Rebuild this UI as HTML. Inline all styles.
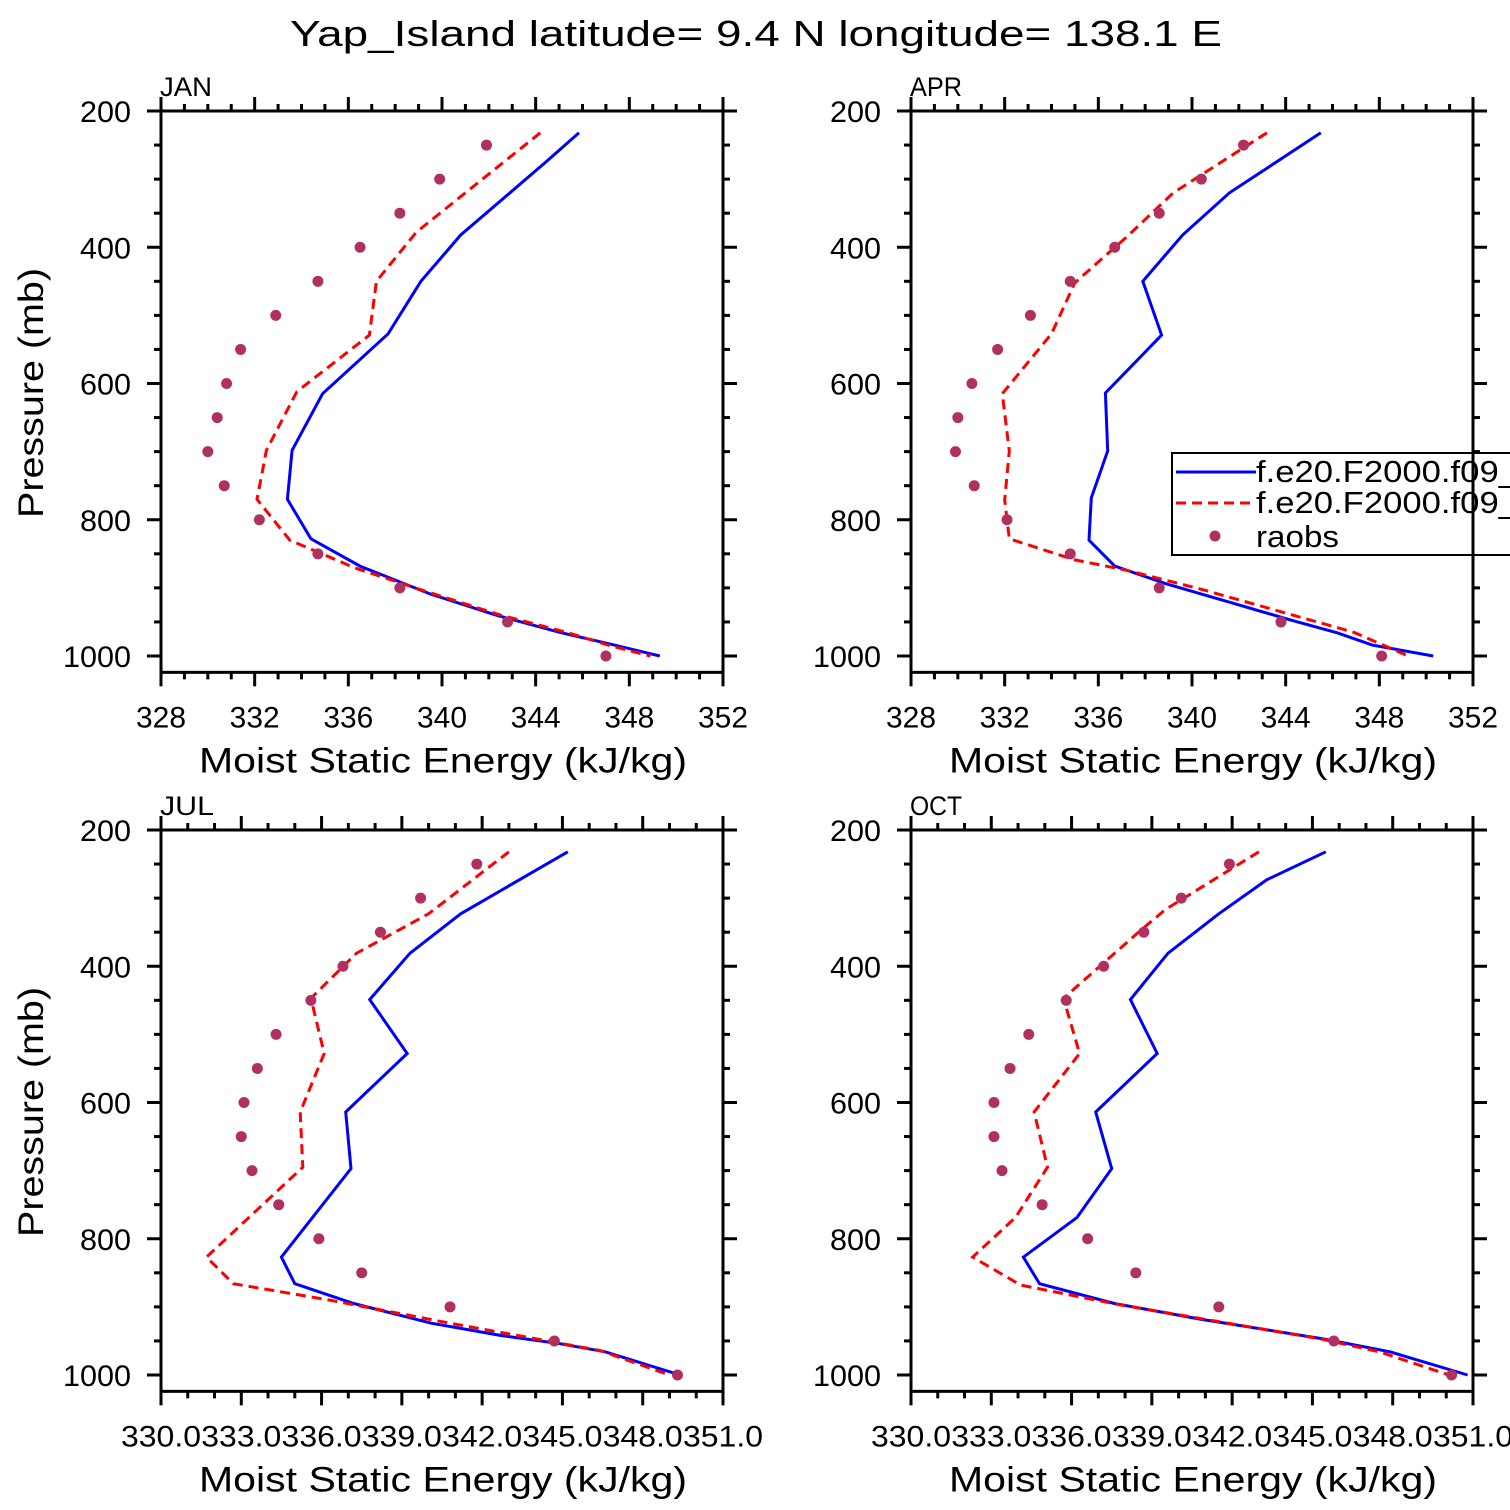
<!DOCTYPE html>
<html><head><meta charset="utf-8"><style>
body{margin:0;background:#fff}
svg{display:block}
text{font-family:"Liberation Sans",sans-serif;fill:#000}
</style></head><body>
<svg id="c" width="1510" height="1510" xmlns="http://www.w3.org/2000/svg">
<text x="290" y="46" font-size="36" textLength="932" lengthAdjust="spacingAndGlyphs">Yap_Island  latitude= 9.4 N longitude= 138.1 E</text>
</svg>
<script>
// ---- data ----
const monthNames = ["JAN","APR","JUL","OCT"];
const obsLevels = [250,300,350,400,450,500,550,600,650,700,750,800,850,900,950,1000];
const janBlueP = [232,276,382,450,527,615,698,770,828,868,909,940,965,985,1000];
const janBlueX = [345.85,344.4,340.8,339.1,337.7,334.9,333.6,333.4,334.4,336.5,339.5,342.3,345.0,347.5,349.3];
const janRedP = [232,378,450,529,612,698,770,830,871,905,940,965,985,1000];
const janRedX = [344.2,338.9,337.2,336.9,333.8,332.5,332.1,333.5,336.3,339.3,342.5,345.3,347.2,348.9];
const janObs = [341.9,339.9,338.2,336.5,334.7,332.9,331.4,330.8,330.4,330.0,330.7,332.2,334.7,338.2,342.8,347.0];
const aprBlueP = [232,320,382,450,529,614,699,768,830,868,894,921,947,966,984,1000];
const aprBlueX = [345.5,341.6,339.6,337.9,338.7,336.3,336.4,335.7,335.6,336.7,338.9,341.6,344.2,346.2,347.7,350.3];
const aprRedP = [232,320,382,452,527,615,699,771,828,859,874,903,940,965,1001];
const aprRedX = [343.2,339.2,337.3,335.0,334.0,331.9,332.2,332.0,332.2,335.0,337.2,340.5,344.3,346.9,349.3];
const aprObs = [342.2,340.4,338.6,336.7,334.8,333.1,331.7,330.6,330.0,329.9,330.7,332.1,334.8,338.6,343.8,348.1];
const julBlueP = [232,323,381,449,528,614,697,827,866,895,924,942,954,966,1000];
const julBlueX = [345.2,341.2,339.3,337.8,339.2,336.9,337.1,334.5,335.0,337.2,340.1,342.7,344.9,346.6,349.4];
const julRedP = [232,323,381,447,528,614,695,827,866,890,924,964,1000];
const julRedX = [343.0,340.0,337.3,335.6,336.1,335.2,335.3,331.7,332.7,336.3,340.8,346.4,349.0];
const julObs = [341.8,339.7,338.2,336.8,335.6,334.3,333.6,333.1,333.0,333.4,334.4,335.9,337.5,340.8,344.7,349.3];
const octBlueP = [232,273,323,381,449,528,614,697,769,827,866,895,918,947,966,1000];
const octBlueX = [345.5,343.3,341.5,339.6,338.2,339.2,336.9,337.5,336.2,334.2,334.8,337.6,340.8,345.4,347.9,350.8];
const octRedP = [232,317,350,447,528,614,695,769,827,868,897,947,966,1000];
const octRedX = [343.0,339.5,338.5,335.7,336.3,334.6,335.1,333.9,332.3,334.1,337.8,345.3,347.5,350.1];
const octObs = [341.9,340.1,338.7,337.2,335.8,334.4,333.7,333.1,333.1,333.4,334.9,336.6,338.4,341.5,345.8,350.2];
const xTicksA = [328,332,336,340,344,348,352];
const xTicksB = [330,333,336,339,342,345,348,351];
const yTicks = [200,400,600,800,1000];

const panels = [
 {name:"jan",title:monthNames[0],x0:161,y0:111,xmin:328,xmax:352,ticks:xTicksA,bp:janBlueP,bx:janBlueX,rp:janRedP,rx:janRedX,obs:janObs,dec:false},
 {name:"apr",title:monthNames[1],x0:911,y0:111,xmin:328,xmax:352,ticks:xTicksA,bp:aprBlueP,bx:aprBlueX,rp:aprRedP,rx:aprRedX,obs:aprObs,dec:false},
 {name:"jul",title:monthNames[2],x0:161,y0:830,xmin:330,xmax:351,ticks:xTicksB,bp:julBlueP,bx:julBlueX,rp:julRedP,rx:julRedX,obs:julObs,dec:true},
 {name:"oct",title:monthNames[3],x0:911,y0:830,xmin:330,xmax:351,ticks:xTicksB,bp:octBlueP,bx:octBlueX,rp:octRedP,rx:octRedX,obs:octObs,dec:true}
];
const svg=document.getElementById('c');
const NS="http://www.w3.org/2000/svg";
function mk(tag,attrs,parent){const e=document.createElementNS(NS,tag);for(const k in attrs)e.setAttribute(k,attrs[k]);(parent||svg).appendChild(e);return e;}
const W=562, PPM=0.68125, H=(1024-200)*PPM;
panels.forEach(P=>{
  const g=mk('g',{});
  
  
  const sx=v=>P.x0+(v-P.xmin)/(P.xmax-P.xmin)*W;
  const sy=p=>P.y0+(p-200)*PPM;
  const yb=P.y0+H;
  for(let v=P.xmin;v<=P.xmax+1e-6;v+=1){
    const major=P.ticks.some(t=>Math.abs(t-v)<1e-6);
    const L=major?14:7;
    mk('line',{x1:sx(v),x2:sx(v),y1:P.y0,y2:P.y0-L,stroke:'#000','stroke-width':3},g);
    mk('line',{x1:sx(v),x2:sx(v),y1:yb,y2:yb+L,stroke:'#000','stroke-width':3},g);
  }
  for(let p=200;p<=1000;p+=50){
    const major=p%200===0, L=major?14:7;
    mk('line',{x1:P.x0,x2:P.x0-L,y1:sy(p),y2:sy(p),stroke:'#000','stroke-width':3},g);
    mk('line',{x1:P.x0+W,x2:P.x0+W+L,y1:sy(p),y2:sy(p),stroke:'#000','stroke-width':3},g);
  }
  yTicks.forEach(p=>{const s=String(p);const t=mk('text',{x:P.x0-30-(s.length*17),y:sy(p)+11,'font-size':30,textLength:s.length*17,lengthAdjust:'spacingAndGlyphs'},g);t.textContent=s;
    
    });
  P.ticks.forEach(v=>{const s=P.dec?v.toFixed(1):String(v);const w=P.dec?80:50;const t=mk('text',{x:sx(v)-w/2,y:yb+55,'font-size':30,textLength:w,lengthAdjust:'spacingAndGlyphs'},g);t.textContent=s;
    
    });
  const mt=mk('text',{x:P.x0-1,y:P.y0-15,'font-size':27,textLength:P.title==='JUL'?54:52,lengthAdjust:'spacingAndGlyphs'},g);mt.textContent=P.title;
  
  
  const xt=mk('text',{x:P.x0+38,y:yb+100,'font-size':35,textLength:488,lengthAdjust:'spacingAndGlyphs'},g);xt.textContent="Moist Static Energy (kJ/kg)";
  
  
  if(P.x0<500){const yt=mk('text',{x:-125,y:0,'font-size':35,textLength:250,lengthAdjust:'spacingAndGlyphs',transform:`translate(43,${P.y0+282}) rotate(-90)`},g);yt.textContent="Pressure (mb)";
    
    }
  const pts=(xs,ps)=>xs.map((v,i)=>sx(v).toFixed(1)+','+sy(ps[i]).toFixed(1)).join(' ');
  const bl=mk('polyline',{points:pts(P.bx,P.bp),fill:'none',stroke:'#0000ff','stroke-width':3},g);
  
  
  const rl=mk('polyline',{points:pts(P.rx,P.rp),fill:'none',stroke:'#ff0000','stroke-width':3,'stroke-dasharray':'10,6'},g);
  
  
  P.obs.forEach((v,i)=>{const c=mk('circle',{cx:sx(v),cy:sy(obsLevels[i]),r:5.5,fill:'#b03060'},g);
    
    });
  if(P.name==='apr'){
    const lg=mk('g',{},g);
    
    
    mk('rect',{x:1172,y:453,width:345,height:102,fill:'#fff',stroke:'#000','stroke-width':2},lg);
    mk('line',{x1:1176,x2:1256,y1:472,y2:472,stroke:'#0000ff','stroke-width':3},lg);
    mk('line',{x1:1176,x2:1256,y1:503,y2:503,stroke:'#ff0000','stroke-width':3,'stroke-dasharray':'10,6'},lg);
    mk('circle',{cx:1215,cy:536,r:5.5,fill:'#b03060'},lg);
    [['f.e20.F2000.f09_',482,262],['f.e20.F2000.f09_',513,262],['raobs',547,83]].forEach(([s,y,w])=>{const t=mk('text',{x:1256,y:y,'font-size':31,textLength:w,lengthAdjust:'spacingAndGlyphs'},lg);t.textContent=s;
      
      });
  }
  mk('rect',{x:P.x0,y:P.y0,width:W,height:H,fill:'none',stroke:'#000','stroke-width':3},g);
});
</script>
</body></html>
